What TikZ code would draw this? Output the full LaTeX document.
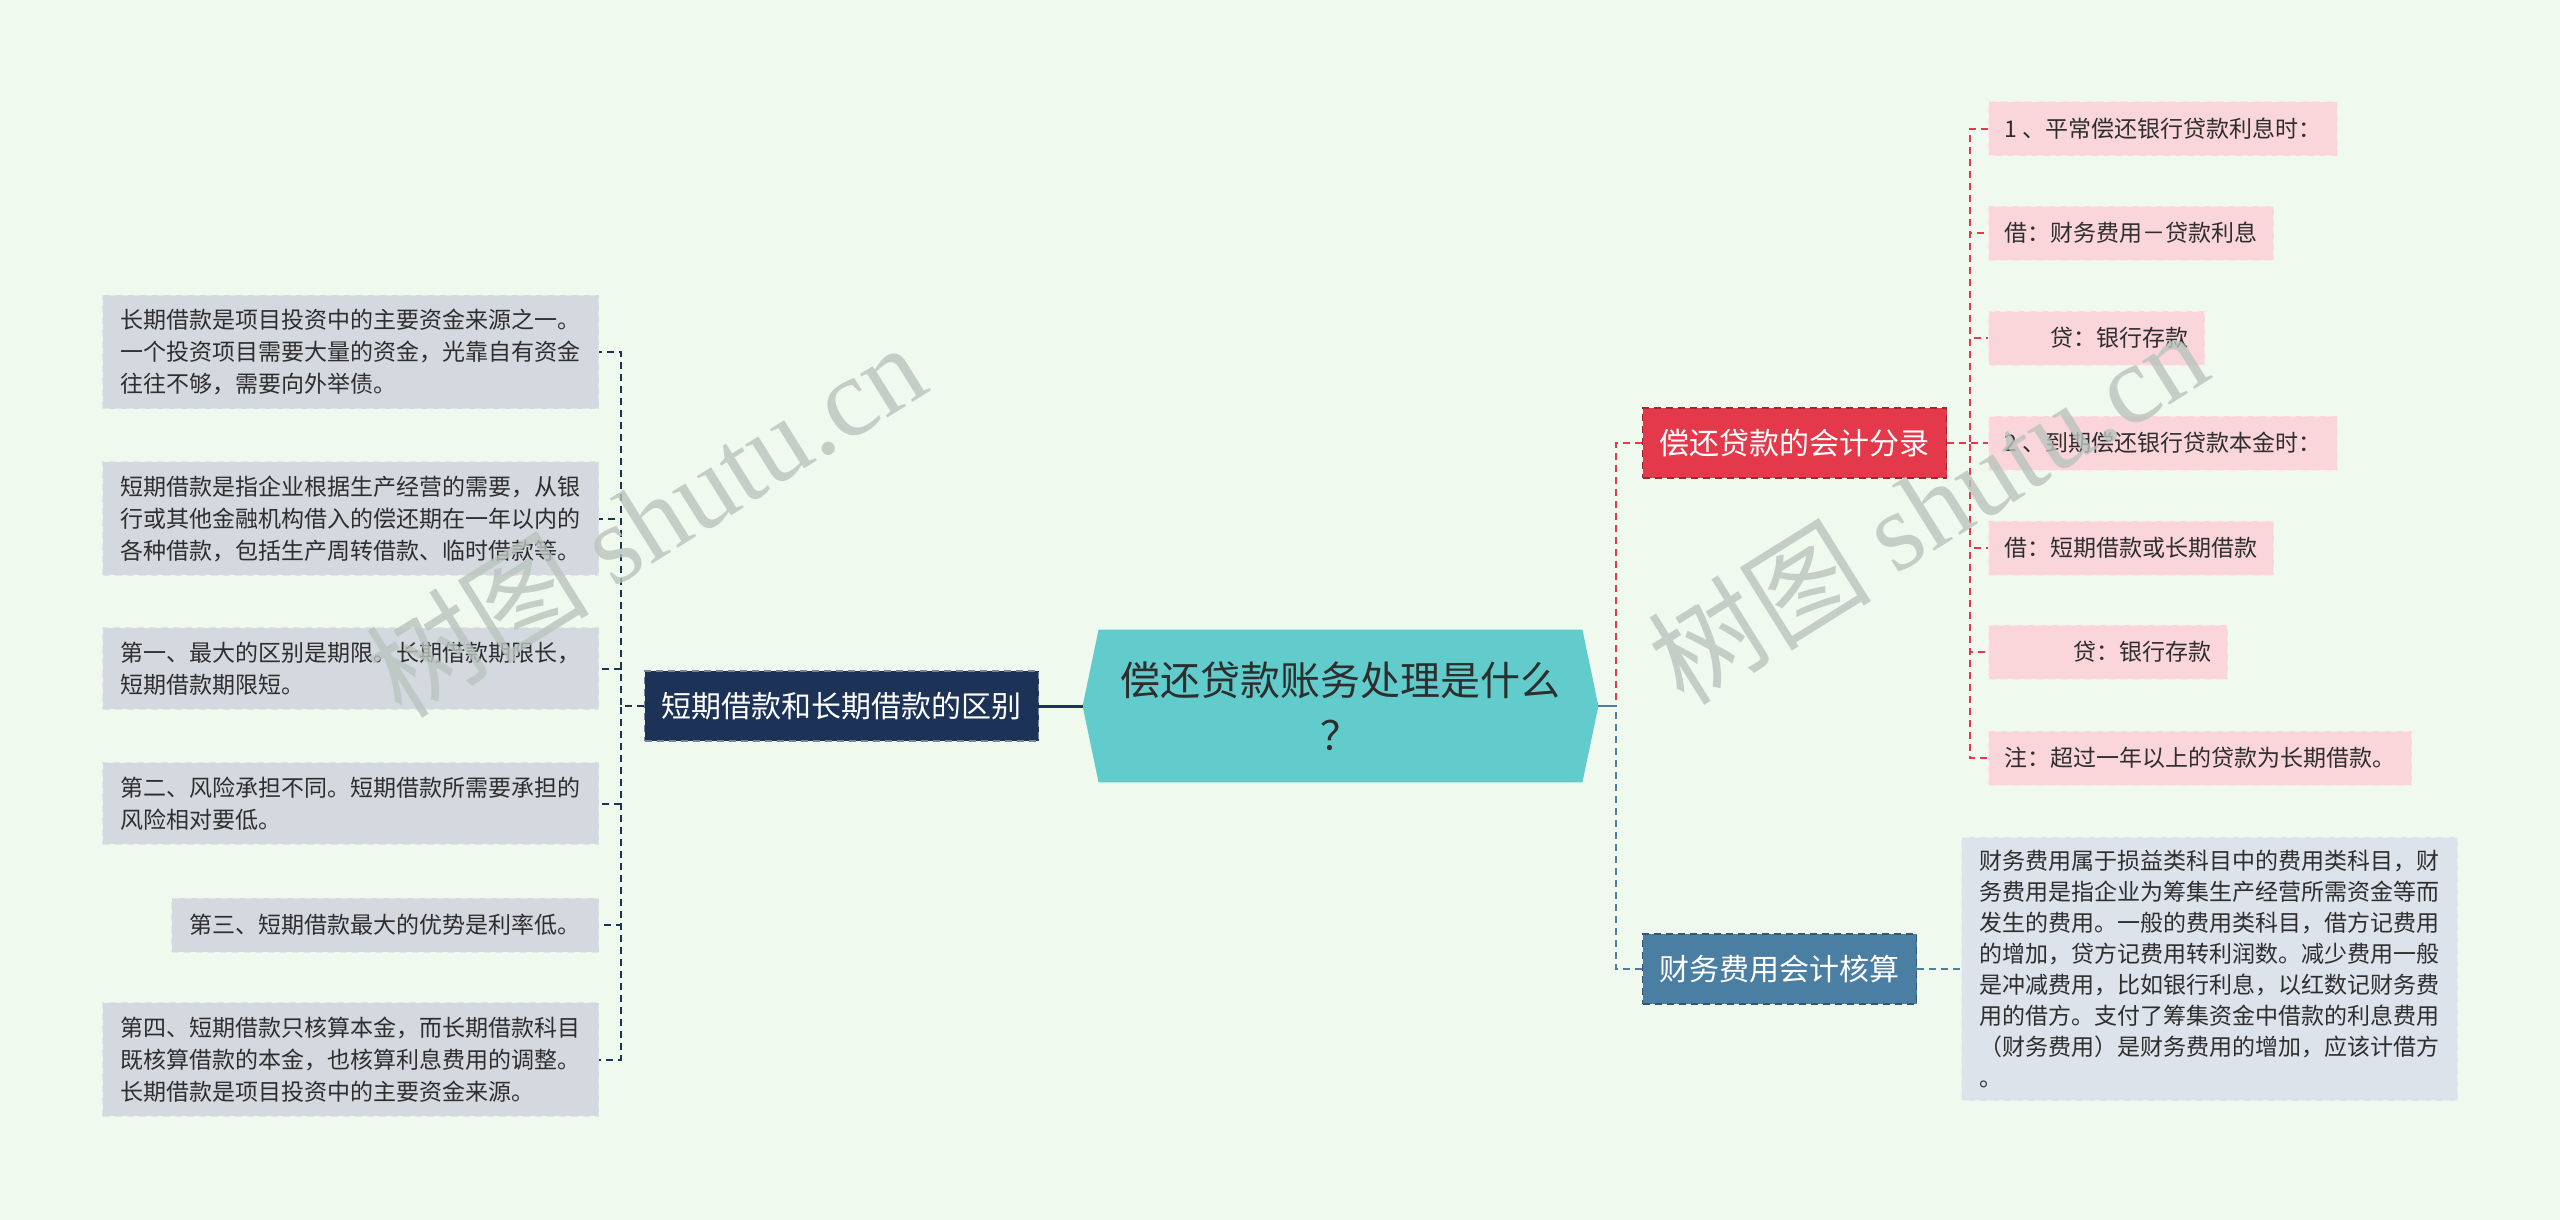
\documentclass[tikz,border=0pt]{standalone}
\usepackage{fontspec}
\setmainfont{Noto Sans CJK SC}
\newfontfamily\wmfont{Liberation Serif}
\usepackage{xcolor}
\usepackage{tikz}
\usetikzlibrary{backgrounds}
\definecolor{bgc}{HTML}{F0F9EE}
\definecolor{ctrc}{HTML}{62CBCB}
\definecolor{navc}{HTML}{1C3256}
\definecolor{redc}{HTML}{E3394A}
\definecolor{stlc}{HTML}{4A7EA2}
\definecolor{grayc}{HTML}{D4D9DF}
\definecolor{pinkc}{HTML}{FAD6DB}
\definecolor{bluec}{HTML}{DCE3EB}
\definecolor{txtc}{HTML}{2E2E2E}
\definecolor{wmc}{HTML}{B9C4BE}

\begin{document}
\begin{tikzpicture}[
  x=0.5pt, y=-0.5pt,
  font=\fontsize{11.5}{16}\selectfont,
  dsh/.style={dash pattern=on 3.5pt off 2.5pt},
  box/.style={draw, dsh, line width=0.6pt, inner xsep=8.5pt, inner ysep=0pt,
    minimum height=35pt, text=white, font=\fontsize{15}{18}\selectfont},
  leaf/.style={draw, dsh, line width=0.5pt, align=left, inner xsep=9pt, inner ysep=7pt,
    minimum height=27pt, text=txtc},
  gleaf/.style={leaf, fill=grayc, draw=grayc!70!white, anchor=east},
  pleaf/.style={leaf, fill=pinkc, draw=pinkc!60!white, anchor=west, inner xsep=8pt},
  link/.style={dsh, line width=1pt},
  wm/.style={text=wmc, opacity=0.8, font=\fontsize{56}{60}\selectfont, rotate=32}
]
  \useasboundingbox (0,0) rectangle (2560,1220);

  % centre
  \node[minimum width=257.5pt, minimum height=76pt, align=center, text=txtc,
        font=\fontsize{20}{27.5}\selectfont] (ctr) at (1340.5,706) {偿还贷款账务处理是什么\\？};

  % left branch
  \node[box, fill=navc, draw=navc!60!white] (nav) at (841.5,706) {短期借款和长期借款的区别};
  \node[gleaf] (l1) at (599,352) {长期借款是项目投资中的主要资金来源之一。\\一个投资项目需要大量的资金，光靠自有资金\\往往不够，需要向外举债。};
  \node[gleaf] (l2) at (599,518.5) {短期借款是指企业根据生产经营的需要，从银\\行或其他金融机构借入的偿还期在一年以内的\\各种借款，包括生产周转借款、临时借款等。};
  \node[gleaf] (l3) at (599,668.5) {第一、最大的区别是期限。长期借款期限长，\\短期借款期限短。};
  \node[gleaf] (l4) at (599,803.5) {第二、风险承担不同。短期借款所需要承担的\\风险相对要低。};
  \node[gleaf] (l5) at (599,925) {第三、短期借款最大的优势是利率低。};
  \node[gleaf] (l6) at (599,1059.5) {第四、短期借款只核算本金，而长期借款科目\\既核算借款的本金，也核算利息费用的调整。\\长期借款是项目投资中的主要资金来源。};
  \draw[navc, line width=1.5pt] (ctr.west) -- (nav.east);
  \draw[link, navc] (nav.west) -- ++(-11.5pt,0) |- (l1.east);
  \draw[link, navc] (nav.west) -- ++(-11.5pt,0) |- (l2.east);
  \draw[link, navc] (nav.west) -- ++(-11.5pt,0) |- (l3.east);
  \draw[link, navc] (nav.west) -- ++(-11.5pt,0) |- (l4.east);
  \draw[link, navc] (nav.west) -- ++(-11.5pt,0) |- (l5.east);
  \draw[link, navc] (nav.west) -- ++(-11.5pt,0) |- (l6.east);

  % right branches
  \node[box, fill=redc, draw=redc!70!black, anchor=west] (red) at (1642,443) {偿还贷款的会计分录};
  \node[box, fill=stlc, draw=stlc!70!black, anchor=west] (stl) at (1642,969) {财务费用会计核算};
  \node[pleaf] (p1) at (1988,129) {1 、平常偿还银行贷款利息时：};
  \node[pleaf] (p2) at (1988,233) {借：财务费用－贷款利息};
  \node[pleaf] (p3) at (1988,338) {　　贷：银行存款};
  \node[pleaf] (p4) at (1988,443) {2 、到期偿还银行贷款本金时：};
  \node[pleaf] (p5) at (1988,548) {借：短期借款或长期借款};
  \node[pleaf] (p6) at (1988,652) {　　　贷：银行存款};
  \node[pleaf] (p7) at (1988,758) {注：超过一年以上的贷款为长期借款。};
  \node[leaf, fill=bluec, draw=bluec!60!white, anchor=west, inner ysep=6.5pt,
        font=\fontsize{11.5}{15.5}\selectfont] (bl) at (1961,969) {财务费用属于损益类科目中的费用类科目，财\\务费用是指企业为筹集生产经营所需资金等而\\发生的费用。一般的费用类科目，借方记费用\\的增加，贷方记费用转利润数。减少费用一般\\是冲减费用，比如银行利息，以红数记财务费\\用的借方。支付了筹集资金中借款的利息费用\\（财务费用）是财务费用的增加，应该计借方\\。};
  \draw[link, redc] (ctr.east) -- ++(9pt,0) |- (red.west);
  \draw[link, stlc] (ctr.east) -- ++(9pt,0) |- (stl.west);
  \draw[stlc, line width=1.2pt] (ctr.east) -- ++(9pt,0);
  \draw[link, redc] (red.east) -- ++(11.5pt,0) |- (p1.west);
  \draw[link, redc] (red.east) -- ++(11.5pt,0) |- (p2.west);
  \draw[link, redc] (red.east) -- ++(11.5pt,0) |- (p3.west);
  \draw[link, redc] (red.east) -- ++(11.5pt,0) |- (p4.west);
  \draw[link, redc] (red.east) -- ++(11.5pt,0) |- (p5.west);
  \draw[link, redc] (red.east) -- ++(11.5pt,0) |- (p6.west);
  \draw[link, redc] (red.east) -- ++(11.5pt,0) |- (p7.west);
  \draw[link, stlc] (stl.east) -- (bl.west);

  % watermarks
  \node[wm] (wm1) at (645,519) {树图 {\wmfont shutu.cn}};
  \node[wm] (wm2) at (1927,506) {树图 {\wmfont shutu.cn}};

  \begin{scope}[on background layer]
    \fill[bgc] (0,0) rectangle (2560,1220);
    \fill[ctrc] ([xshift=8pt]ctr.north west) -- ([xshift=-8pt]ctr.north east) -- (ctr.east)
      -- ([xshift=-8pt]ctr.south east) -- ([xshift=8pt]ctr.south west) -- (ctr.west) -- cycle;
  \end{scope}
\end{tikzpicture}
\end{document}
